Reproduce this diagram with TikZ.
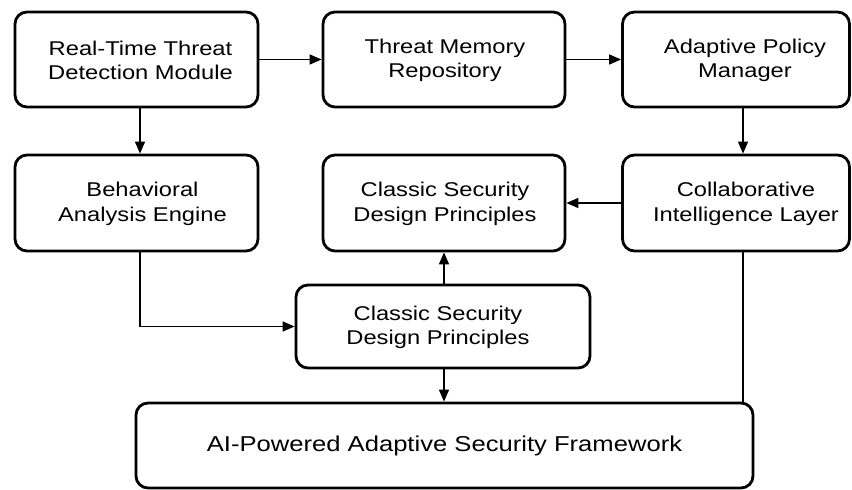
\documentclass[tikz,border=0pt]{standalone}
\usepackage{fontspec}
\setmainfont[FakeStretch=1.19]{Liberation Sans}
\usetikzlibrary{arrows.meta}
\begin{document}
\begin{tikzpicture}[x=1bp,y=-1bp,
  blk/.style={draw=black, line width=2.8bp, rounded corners=12bp, fill=white,
    inner sep=0pt},
  caption/.style={align=center, inner sep=0pt, font=\fontsize{20}{24.5}\selectfont},
  link/.style={line width=1.4bp, -{Triangle[length=12bp,width=10bp]}},
  plain/.style={line width=1.4bp}]
\useasboundingbox (0,0) rectangle (852,490);
\fill[white] (0,0) rectangle (852,490);
% top row
\node[blk, minimum width=243bp, minimum height=95bp] (rt) at (136.5,59.5) {};
\node[blk, minimum width=242bp, minimum height=95bp] (tm) at (444,59.5) {};
\node[blk, minimum width=227bp, minimum height=95bp] (ap) at (736,59.5) {};
% middle row
\node[blk, minimum width=243bp, minimum height=96bp] (be) at (136.5,203) {};
\node[blk, minimum width=242bp, minimum height=96bp] (cs1) at (444,203) {};
\node[blk, minimum width=227bp, minimum height=96bp] (ci) at (736,203) {};
% lower blocks
\node[blk, minimum width=294bp, minimum height=83bp] (cs2) at (443,326.5) {};
\node[blk, minimum width=617bp, minimum height=85bp] (fw) at (444.5,445.5) {};
% captions
\node[caption] (rtt) at ([xshift=4bp,yshift=-1bp]rt.center) {Real-Time Threat\\Detection Module};
\node[caption] (tmt) at ([xshift=1bp,yshift=-1bp]tm.center) {Threat Memory\\Repository};
\node[caption] (apt) at ([xshift=9bp,yshift=-1bp]ap.center) {Adaptive Policy\\Manager};
\node[caption] (bet) at ([xshift=6bp,yshift=-1bp]be.center) {Behavioral\\Analysis Engine};
\node[caption] (cs1t) at ([xshift=1bp,yshift=-1bp]cs1.center) {Classic Security\\Design Principles};
\node[caption] (cit) at ([xshift=10bp,yshift=-1bp]ci.center) {Collaborative\\Intelligence Layer};
\node[caption] (cs2t) at ([xshift=-5bp,yshift=-1bp]cs2.center) {Classic Security\\Design Principles};
\node[caption, font=\fontsize{21.6}{25}\selectfont] (fwt) at (fw.center) {AI-Powered Adaptive Security Framework};
% connectors
\draw[link] (rt.east) -- (tm.west);
\draw[link] (tm.east) -- (ap.west);
\draw[link] (rt.south -| 140,0) -- (be.north -| 140,0);
\draw[link] (ap.south -| 743,0) -- (ci.north -| 743,0);
\draw[link] (ci.west) -- (cs1.east);
\draw[link] (be.south -| 140,0) |- (cs2.west);
\draw[link] (cs2.north -| 444,0) -- (cs1.south -| 444,0);
\draw[link] (cs2.south -| 444,0) -- (fw.north -| 444,0);
\draw[plain] (ci.south -| 743,0) -- (fw.north -| 743,0);
\end{tikzpicture}
\end{document}
